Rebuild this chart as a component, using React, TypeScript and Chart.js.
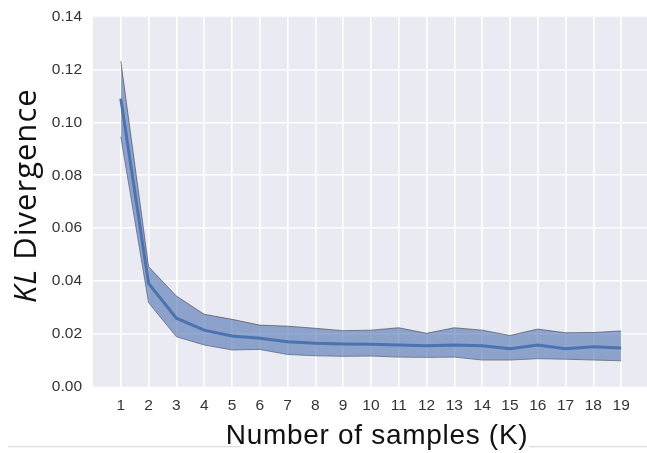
import React, { useEffect, useRef } from 'react';
import { Chart, registerables } from 'chart.js';

Chart.register(...registerables);

// Data
const samples = [1, 2, 3, 4, 5, 6, 7, 8, 9, 10, 11, 12, 13, 14, 15, 16, 17, 18, 19];
const meanKL = [0.109, 0.0391, 0.0259, 0.0214, 0.0192, 0.0183, 0.017, 0.0164, 0.0162, 0.0161, 0.0158, 0.0155, 0.0158, 0.0155, 0.0144, 0.0158, 0.0144, 0.0151, 0.0146];
const upperKL = [0.1232, 0.0454, 0.0343, 0.0274, 0.0255, 0.0233, 0.0229, 0.0221, 0.0212, 0.0214, 0.0223, 0.0202, 0.0223, 0.0214, 0.0194, 0.0218, 0.0204, 0.0205, 0.0211];
const lowerKL = [0.0946, 0.0318, 0.0189, 0.0158, 0.0139, 0.0141, 0.0122, 0.0117, 0.0115, 0.0116, 0.0112, 0.0111, 0.0112, 0.0101, 0.0101, 0.0106, 0.0104, 0.0101, 0.0098];
const yTickValues = [0, 0.02, 0.04, 0.06, 0.08, 0.1, 0.12, 0.14];

const xTitle = 'Number of samples (K)';
const yTitleItalic = 'KL';
const yTitleRest = ' Divergence';

const LINE_BLUE = '#4C72B0';
const BAND_FILL = 'rgba(76,114,176,0.6)';
const BAND_EDGE = 'rgba(60,60,70,0.75)';
const BG = '#EAEAF2';
const TICK_FONT = '"Liberation Sans", Arial, sans-serif';

const decorPlugin = {
  id: 'decor',
  beforeDraw(chart: any) {
    const { ctx, chartArea, width, height } = chart;
    ctx.save();
    ctx.fillStyle = '#ffffff';
    ctx.fillRect(0, 0, width, height);
    ctx.fillStyle = BG;
    ctx.fillRect(chartArea.left, chartArea.top, chartArea.right - chartArea.left, chartArea.bottom - chartArea.top);
    ctx.restore();
  },
  afterDraw(chart: any) {
    const { ctx, chartArea } = chart;
    ctx.save();
    // X axis title
    ctx.fillStyle = '#111111';
    ctx.font = `28px ${TICK_FONT}`;
    (ctx as any).letterSpacing = '0.7px';
    ctx.textAlign = 'center';
    ctx.textBaseline = 'alphabetic';
    const cx = (chartArea.left + chartArea.right) / 2 + 7;
    const baseY = chartArea.bottom + 57.5;
    ctx.fillText(xTitle, cx, baseY);
    const tw = ctx.measureText(xTitle).width;
    // thin rule at the bottom of the page
    ctx.strokeStyle = '#d4d4d4';
    ctx.lineWidth = 1;
    const ruleY = baseY + 2.5;
    ctx.beginPath();
    ctx.moveTo(8, ruleY);
    ctx.lineTo(cx - tw / 2 + 15, ruleY);
    ctx.moveTo(cx + tw / 2 + 1, ruleY);
    ctx.lineTo(chart.width, ruleY);
    ctx.stroke();

    // Y axis title with italic KL
    (ctx as any).letterSpacing = '1px';
    const italicFont = `italic 31px "Open Sans", sans-serif`;
    const normalFont = `31px "Open Sans", sans-serif`;
    ctx.font = italicFont;
    const w1 = ctx.measureText(yTitleItalic).width;
    ctx.font = normalFont;
    const w2 = ctx.measureText(yTitleRest).width;
    const total = w1 + w2;
    const cy = (chartArea.top + chartArea.bottom) / 2 - 6;
    ctx.translate(36, cy);
    ctx.rotate(-Math.PI / 2);
    ctx.textAlign = 'left';
    ctx.textBaseline = 'alphabetic';
    ctx.font = italicFont;
    ctx.fillText(yTitleItalic, -total / 2, 0);
    ctx.font = normalFont;
    ctx.fillText(yTitleRest, -total / 2 + w1, 0);
    ctx.restore();
  },
};

export default function App() {
  const canvasRef = useRef<HTMLCanvasElement | null>(null);

  useEffect(() => {
    if (!canvasRef.current) return;
    const toPts = (arr: number[]) => samples.map((x, i) => ({ x, y: arr[i] }));
    const chart = new Chart(canvasRef.current, {
      type: 'line',
      data: {
        datasets: [
          {
            label: 'mean',
            data: toPts(meanKL),
            borderColor: LINE_BLUE,
            borderWidth: 3,
            pointRadius: 0,
            fill: false,
            tension: 0,
          },
          {
            label: 'upper',
            data: toPts(upperKL),
            borderColor: BAND_EDGE,
            borderWidth: 0.8,
            pointRadius: 0,
            fill: '+1',
            backgroundColor: BAND_FILL,
            tension: 0,
          },
          {
            label: 'lower',
            data: toPts(lowerKL),
            borderColor: BAND_EDGE,
            borderWidth: 0.8,
            pointRadius: 0,
            fill: false,
            tension: 0,
          },
        ],
      },
      options: {
        animation: false,
        responsive: true,
        maintainAspectRatio: false,
        layout: { padding: { top: 16.7, right: 0, left: 0, bottom: 0 } },
        plugins: {
          legend: { display: false },
          tooltip: { enabled: false },
          title: { display: false },
        },
        scales: {
          x: {
            type: 'linear',
            min: 0,
            max: 19.93,
            afterBuildTicks: (scale: any) => {
              scale.ticks = samples.map((v) => ({ value: v }));
            },
            afterFit: (scale: any) => {
              scale.height = 66.3;
              scale.paddingLeft = 0;
              scale.paddingRight = 0;
            },
            ticks: {
              autoSkip: false,
              maxRotation: 0,
              padding: 10,
              color: '#333333',
              font: { family: TICK_FONT, size: 15.5 },
              callback: (v: any) => String(v),
            },
            grid: { color: '#ffffff', lineWidth: 1.6, drawTicks: false },
            border: { display: false },
          },
          y: {
            type: 'linear',
            min: 0,
            max: 0.14,
            afterBuildTicks: (scale: any) => {
              scale.ticks = yTickValues.map((v) => ({ value: v }));
            },
            afterFit: (scale: any) => {
              scale.width = 93;
              scale.paddingTop = 0;
              scale.paddingBottom = 0;
            },
            ticks: {
              padding: 11,
              color: '#333333',
              font: { family: TICK_FONT, size: 15.5 },
              callback: (v: any) => Number(v).toFixed(2),
            },
            grid: {
              color: (ctx: any) =>
                ctx.tick && (ctx.tick.value === 0 || Math.abs(ctx.tick.value - 0.14) < 1e-9) ? 'rgba(0,0,0,0)' : '#ffffff',
              lineWidth: 1.6,
              drawTicks: false,
            },
            border: { display: false },
          },
        },
      },
      plugins: [decorPlugin],
    });
    return () => chart.destroy();
  }, []);

  return (
    <div style={{ position: 'fixed', left: 0, top: 0, width: 647, height: 453, background: '#fff' }}>
      <canvas ref={canvasRef} />
    </div>
  );
}
